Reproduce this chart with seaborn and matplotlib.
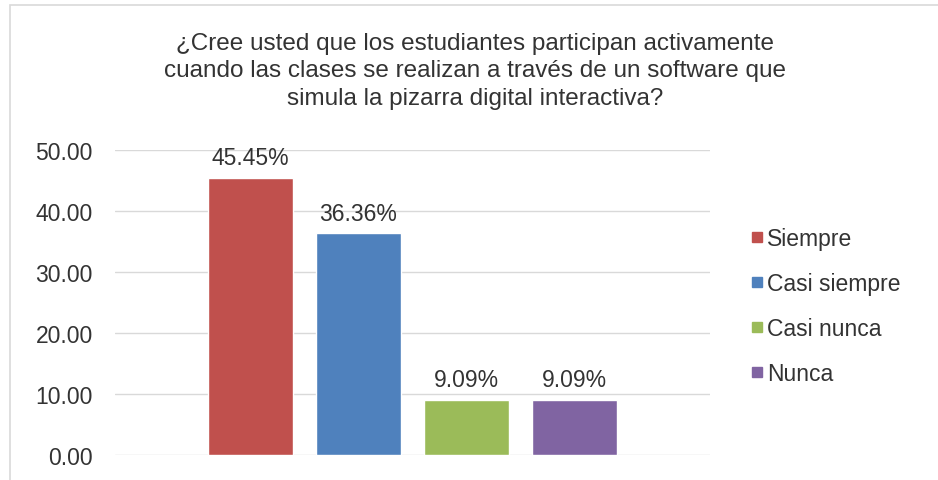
import matplotlib
matplotlib.use("Agg")
import matplotlib.pyplot as plt
import seaborn as sns
import pandas as pd
from matplotlib.ticker import FormatStrFormatter
from matplotlib.lines import Line2D
from matplotlib.patches import Rectangle

series = ["Siempre", "Casi siempre", "Casi nunca", "Nunca"]
values = [45.45, 36.36, 9.09, 9.09]
colors = ["#C0504D", "#4F81BD", "#9BBB59", "#8064A2"]
title = ("¿Cree usted que los estudiantes participan activamente\n"
         "cuando las clases se realizan a través de un software que\n"
         "simula la pizarra digital interactiva?")

sns.set_style("white")
plt.rcParams["font.family"] = ["Liberation Sans", "DejaVu Sans"]

df = pd.DataFrame({"cat": [""] * len(series), "serie": series, "valor": values})

fig = plt.figure(figsize=(9.38, 4.81), dpi=100)
ax = fig.add_axes([0.1226, 0.052, 0.757 - 0.1226, 0.634])

sns.barplot(data=df, x="cat", y="valor", hue="serie", hue_order=series,
            palette=colors, width=0.726, gap=0.22, ax=ax, legend=False,
            saturation=1)

ax.set_xlim(-0.5, 0.5)
ax.set_ylim(0, 50)
ax.set_yticks([0, 10, 20, 30, 40, 50])
ax.yaxis.set_major_formatter(FormatStrFormatter("%.2f"))
ax.grid(axis="y", color="#D9D9D9", linewidth=1)
ax.set_axisbelow(True)
for s in ax.spines.values():
    s.set_visible(False)
ax.set_xlabel("")
ax.set_ylabel("")
ax.set_xticks([])
ax.tick_params(axis="y", length=0, pad=16, labelsize=16.5, labelcolor="#333333")

for cont in ax.containers:
    ax.bar_label(cont, fmt="%.2f%%", fontsize=16.5, color="#333333", padding=6)

fig.text(0.506, 0.932, title, ha="center", va="top", fontsize=17.5,
         color="#333333", linespacing=1.32)

handles = [Line2D([0], [0], marker="s", linestyle="", markersize=7,
                  markerfacecolor=c, markeredgecolor=c) for c in colors]
fig.legend(handles, series, loc="center left", bbox_to_anchor=(0.777, 0.362),
           frameon=False, fontsize=16.5, labelcolor="#333333",
           handletextpad=0.05, labelspacing=0.97, handlelength=0.7)

fig.patches.append(Rectangle((0.011, -0.01), 0.99, 0.998, transform=fig.transFigure,
                             fill=False, edgecolor="#D9D9D9", linewidth=1.2))

fig.savefig("out.png", dpi=100)
